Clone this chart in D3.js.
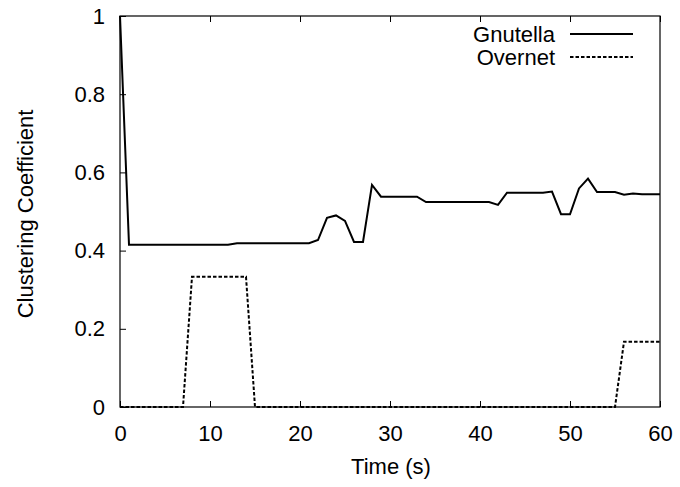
<!DOCTYPE html>
<html>
<head>
<meta charset="utf-8">
<script src="https://cdn.jsdelivr.net/npm/d3@7"></script>
<style>
  body { margin: 0; background: #fff; }
  svg text { font-family: "Liberation Sans", Arial, Helvetica, sans-serif; fill: #000; }
</style>
</head>
<body>
<svg id="chart" width="680" height="487"></svg>
<script>
// time in seconds, one sample per second
let time = d3.range(0, 61);

let gnutella = [
    1, 0.415, 0.415, 0.415, 0.415, 0.415, 0.415, 0.415, 0.415, 0.415,
    0.415, 0.415, 0.415, 0.419, 0.419, 0.419, 0.419, 0.419, 0.419, 0.419,
    0.419, 0.419, 0.427, 0.484, 0.490, 0.476, 0.422, 0.422, 0.568, 0.538,
    0.538, 0.538, 0.538, 0.538, 0.524, 0.524, 0.524, 0.524, 0.524, 0.524,
    0.524, 0.524, 0.517, 0.548, 0.548, 0.548, 0.548, 0.548, 0.551, 0.493,
    0.493, 0.559, 0.584, 0.550, 0.550, 0.550, 0.543, 0.546, 0.544, 0.544,
    0.544
];

let overnet = [
    0, 0, 0, 0, 0, 0, 0, 0, 0.333, 0.333,
    0.333, 0.333, 0.333, 0.333, 0.333, 0, 0, 0, 0, 0,
    0, 0, 0, 0, 0, 0, 0, 0, 0, 0,
    0, 0, 0, 0, 0, 0, 0, 0, 0, 0,
    0, 0, 0, 0, 0, 0, 0, 0, 0, 0,
    0, 0, 0, 0, 0, 0, 0.167, 0.167, 0.167, 0.167,
    0.167
];

let xTicks = [0, 10, 20, 30, 40, 50, 60];
let yTicks = [0, 0.2, 0.4, 0.6, 0.8, 1];

let seriesNames = ["Gnutella", "Overnet"];

let svg = d3.select('#chart');

let plotLeft = 120, plotRight = 660, plotTop = 16, plotBottom = 407;
let fontSize = 22;

let x = d3.scaleLinear().domain([0, 60]).range([plotLeft, plotRight]);
let y = d3.scaleLinear().domain([0, 1]).range([plotBottom, plotTop]);

// frame
svg.append('rect')
    .attr('x', plotLeft).attr('y', plotTop)
    .attr('width', plotRight - plotLeft).attr('height', plotBottom - plotTop)
    .attr('fill', 'none').attr('stroke', '#000').attr('stroke-width', 1.2);

// bottom axis, ticks pointing inward
let xAxis = svg.append('g')
    .attr('transform', `translate(0, ${plotBottom})`)
    .call(d3.axisBottom(x).tickValues(xTicks).tickSize(-6).tickPadding(18).tickFormat(d3.format('d')));
xAxis.select('.domain').remove();
xAxis.selectAll('text').attr('font-size', fontSize).attr('dy', '0.71em');

// mirrored ticks on top
let xTop = svg.append('g')
    .attr('transform', `translate(0, ${plotTop})`)
    .call(d3.axisTop(x).tickValues(xTicks).tickSize(-6).tickFormat(''));
xTop.select('.domain').remove();

// left axis
let yAxis = svg.append('g')
    .attr('transform', `translate(${plotLeft}, 0)`)
    .call(d3.axisLeft(y).tickValues(yTicks).tickSize(-6).tickPadding(15).tickFormat(d => d === 0 || d === 1 ? d3.format('d')(d) : d3.format('.1f')(d)));
yAxis.select('.domain').remove();
yAxis.selectAll('text').attr('font-size', fontSize);

svg.selectAll('.tick line').attr('stroke', '#000').attr('stroke-width', 1);

// axis labels
svg.append('text')
    .attr('x', 391).attr('y', 474)
    .attr('text-anchor', 'middle')
    .attr('font-size', fontSize)
    .text('Time (s)');

svg.append('text')
    .attr('transform', `translate(33, 214) rotate(-90)`)
    .attr('text-anchor', 'middle')
    .attr('font-size', fontSize)
    .text('Clustering Coefficient');

// lines
let line = d3.line()
    .x((d, i) => x(time[i]))
    .y(d => y(d));

svg.append('path')
    .datum(gnutella)
    .attr('d', line)
    .attr('fill', 'none')
    .attr('stroke', '#000')
    .attr('stroke-width', 2)
    .attr('stroke-linejoin', 'miter');

svg.append('path')
    .datum(overnet)
    .attr('d', line)
    .attr('fill', 'none')
    .attr('stroke', '#000')
    .attr('stroke-width', 2)
    .attr('stroke-dasharray', '3.5,2');

// legend
let legend = svg.append('g');
seriesNames.forEach((name, i) => {
    let ly = 34 + i * 23;
    legend.append('text')
        .attr('x', 555).attr('y', ly)
        .attr('dy', '0.38em')
        .attr('text-anchor', 'end')
        .attr('font-size', fontSize)
        .text(name);
    legend.append('line')
        .attr('x1', 570).attr('x2', 633)
        .attr('y1', ly).attr('y2', ly)
        .attr('stroke', '#000')
        .attr('stroke-width', 2)
        .attr('stroke-dasharray', i === 1 ? '3.5,2' : null);
});
</script>
</body>
</html>
